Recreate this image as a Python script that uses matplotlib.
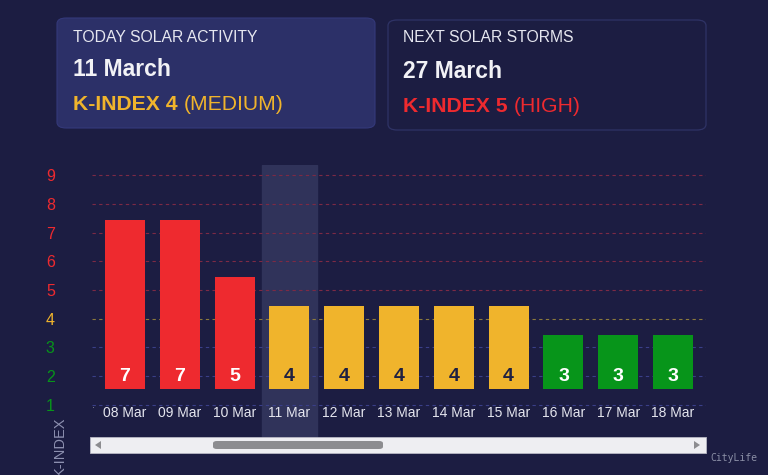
import numpy as np
import matplotlib.pyplot as plt
from matplotlib.patches import FancyBboxPatch, Rectangle, Polygon

# Data.
dates = ['08 Mar', '09 Mar', '10 Mar', '11 Mar', '12 Mar', '13 Mar',
         '14 Mar', '15 Mar', '16 Mar', '17 Mar', '18 Mar']
k_index = [7, 7, 5, 4, 4, 4, 4, 4, 3, 3, 3]
y_levels = [1, 2, 3, 4, 5, 6, 7, 8, 9]
today_idx = 3

W, H = 768, 475
BG = '#1c1d42'
RED = '#ee2a2f'
YEL = '#f0b42c'
GRN = '#07951a'
DARK = '#1f2142'


def level_color(v):
    if v >= 5:
        return RED
    if v == 4:
        return YEL
    return GRN


def fx(x):
    return x / W


def fy(y):
    return 1 - y / H


plt.rcParams['font.family'] = ['Liberation Sans', 'DejaVu Sans']
fig = plt.figure(figsize=(W / 100, H / 100), dpi=100)
fig.patch.set_facecolor(BG)
renderer = fig.canvas.get_renderer()


def two_part(x, y, bold_txt, reg_txt, color, size):
    # bold part followed by a regular part on the same line
    t = fig.text(fx(x), fy(y), bold_txt, color=color, fontsize=size,
                 fontweight='bold', va='center')
    w = t.get_window_extent(renderer).width
    fig.text(fx(x) + (w + 6) / W, fy(y), reg_txt, color=color, fontsize=size,
             va='center')


# Header cards.
card1 = FancyBboxPatch((fx(57), fy(128)), fx(375 - 57), fy(18) - fy(128),
                       boxstyle='round,pad=0,rounding_size=0.012',
                       transform=fig.transFigure, facecolor='#2c3068',
                       edgecolor='#34397a', linewidth=0.8)
card2 = FancyBboxPatch((fx(388), fy(130)), fx(706 - 388), fy(20) - fy(130),
                       boxstyle='round,pad=0,rounding_size=0.012',
                       transform=fig.transFigure, facecolor=BG,
                       edgecolor='#2f3366', linewidth=0.9)
fig.patches.extend([card1, card2])

fig.text(fx(73), fy(37), 'TODAY SOLAR ACTIVITY', color='#e6e7f0',
         fontsize=11.3, va='center')
fig.text(fx(73), fy(70), '11 March', color='#f2f2f6', fontsize=16.5,
         fontweight='bold', va='center')
two_part(73, 105, 'K-INDEX 4', '(MEDIUM)', YEL, 15.2)

fig.text(fx(403), fy(38), 'NEXT SOLAR STORMS', color='#e6e7f0',
         fontsize=11.3, va='center')
fig.text(fx(403), fy(71), '27 March', color='#f2f2f6', fontsize=16.5,
         fontweight='bold', va='center')
two_part(403, 106, 'K-INDEX 5', '(HIGH)', RED, 15.2)

# Chart area.
ax = fig.add_axes([fx(92), fy(440), fx(706 - 92), fy(165) - fy(440)])
ax.set_facecolor(BG)
ax.set_xlim(-0.6, len(dates) - 0.4)
ax.set_ylim(-0.22, 9.35)
for s in ax.spines.values():
    s.set_visible(False)
ax.set_xticks([])
ax.set_yticks(y_levels)
ax.set_yticklabels([str(v) for v in y_levels], fontsize=11.5)
for lab, v in zip(ax.get_yticklabels(), y_levels):
    lab.set_color(level_color(v))
    lab.set_horizontalalignment('center')
ax.tick_params(axis='y', length=0, pad=30)

# Highlight of today.
ax.axvspan(today_idx - 0.5, today_idx + 0.5, color='#30335a', zorder=0)

grid_colors = {v: ('#7c2a45' if v >= 5 else '#8c7a3c' if v == 4 else '#3a3f88')
               for v in y_levels}
for v in y_levels:
    ax.axhline(v, color=grid_colors[v], linestyle=(0, (3, 3)),
               linewidth=0.8, zorder=1)

x = np.arange(len(dates))
base = 1.55
heights = [v + 0.45 - base for v in k_index]
colors = [level_color(v) for v in k_index]
ax.bar(x, heights, bottom=base, width=0.73, color=colors, zorder=2)

for i, v in enumerate(k_index):
    ax.text(i, 2.0, str(v), ha='center', va='center', fontsize=14,
            fontweight='bold', color=DARK if v == 4 else 'white', zorder=3)
    ax.text(i, 0.72, dates[i], ha='center', va='center', fontsize=10,
            color='#e4e5ee', zorder=3)
ax.text(-0.6, 0.9, '·', color='#9a9cb0', fontsize=7, ha='left', va='center')

# Axis title (partly cut off at the bottom).
fig.text(fx(60), fy(446), 'K-INDEX', rotation=90, color='#8d90b0',
         fontsize=10.5, ha='center', va='center')

# Scrollbar.
fig.patches.append(Rectangle((fx(90), fy(453)), fx(706 - 90), fy(437) - fy(453),
                             transform=fig.transFigure, facecolor='#eeeef2',
                             edgecolor='#b8b8c4', linewidth=0.6))
fig.patches.append(FancyBboxPatch((fx(213), fy(449)), fx(383 - 213), fy(441) - fy(449),
                                  boxstyle='round,pad=0,rounding_size=0.005',
                                  transform=fig.transFigure, facecolor='#8c8c90',
                                  edgecolor='none'))
fig.patches.append(Polygon([(fx(101), fy(441)), (fx(101), fy(449)), (fx(95), fy(445))],
                           transform=fig.transFigure, facecolor='#8c8c90'))
fig.patches.append(Polygon([(fx(694), fy(441)), (fx(694), fy(449)), (fx(700), fy(445))],
                           transform=fig.transFigure, facecolor='#8c8c90'))

fig.text(fx(734), fy(458), 'CityLife', color='#8b8fa6', fontsize=7,
         family='DejaVu Sans Mono', ha='center', va='center')

fig.savefig('out.png', dpi=100, facecolor=BG)
